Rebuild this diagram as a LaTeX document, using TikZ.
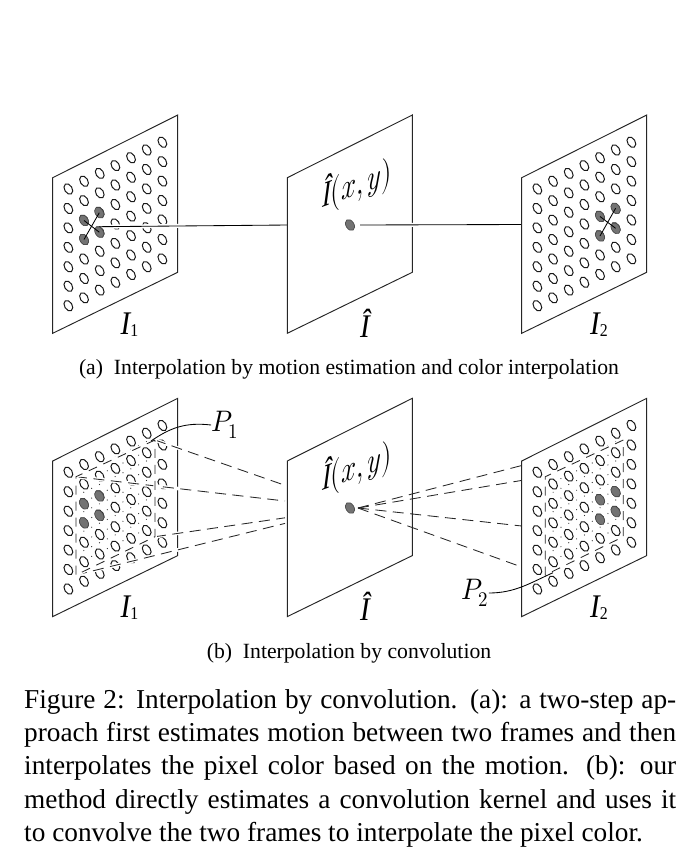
\documentclass[tikz,border=0pt]{standalone}
\usepackage{fontspec}
\setmainfont{Liberation Serif}
\usepackage{unicode-math}
\setmathfont{Latin Modern Math}
\definecolor{dotgray}{gray}{0.45}
\tikzset{
  panel/.style={draw=black!85,fill=white,line width=.95pt},
  pix/.style={draw=black!90,fill=white,line width=1pt},
  pixfill/.style={draw=black!70,fill=dotgray,line width=.7pt},
  link/.style={draw=black,line width=.85pt},
  halo/.style={draw=white,line width=4pt},
  ray/.style={draw=black!85,line width=.85pt,dash pattern=on 11pt off 6.5pt},
  boxdash/.style={draw=black!85,line width=.85pt,dash pattern=on 9pt off 7pt},
  capt/.style={inner sep=0pt,font=\fontsize{21.7}{24}\selectfont},
  body/.style={inner sep=0pt,text width=652pt,align=justify,font=\fontsize{27.3}{33.3}\selectfont},
  lab/.style={inner sep=0pt,xscale=.88,font=\fontsize{33}{36}\selectfont\itshape},
  mlab/.style={inner sep=0pt,font=\fontsize{27}{30}\selectfont},
  tiltlab/.style={mlab,rotate=20,xslant=.38,yscale=1.25,xscale=1.03},
}
\newcommand{\subn}[1]{\raisebox{-2pt}{\fontsize{18}{20}\selectfont\upshape #1}}
\newcommand{\pp}[2]{%
  \path[panel] (#1,#2+62.7) -- (#1+125,#2) -- (#1+125,#2+157.3) -- (#1,#2+218.3) -- cycle;}
\newcommand{\pts}[2]{%
  \foreach \i in {0,...,6}{\foreach \j in {0,...,6}{
    \path[pix] (#1+15.67+15.67*\i,#2+74-7.8*\i+19.45*\j) ellipse[x radius=5.7,y radius=3.8,rotate=-58];}}}
\newcommand{\gdot}[2]{\path[pixfill] (#1,#2) ellipse[x radius=6,y radius=4,rotate=-58];}
\newcommand{\finedots}[2]{%
  \foreach \i in {0,...,9}{\foreach \j in {0,...,9}{
    \fill[black!80] (#1+7.83*\i,#2-3.9*\i+9.72*\j) circle[radius=.6];}}}
\begin{document}
\begin{tikzpicture}[x=1pt,y=-1pt]
\useasboundingbox (0,0) rectangle (694,860);
% --- top row ---
\pp{52.7}{115}
\pts{52.7}{115}
\coordinate (t1) at (99,226.7);
\coordinate (t2) at (288,225);
\path[halo] (106,226.6) -- (t2);
\draw[link] (t1) -- (t2);
\gdot{84}{220.5}\gdot{99.3}{212.7}\gdot{84}{239.5}\gdot{99.3}{232.2}
\draw[link] (84,220.5) -- (99.3,232.2) (99.3,212.7) -- (84,239.5);
\pp{287.3}{115}
\gdot{350}{225}
\pp{521.7}{115}
\pts{521.7}{115}
\gdot{600}{216.5}\gdot{615.6}{208.3}\gdot{600}{236}\gdot{615.6}{228.3}
\draw[link] (600,216.5) -- (615.6,228.3) (615.6,208.3) -- (600,236);
\coordinate (t3) at (360,225);
\coordinate (t4) at (521.7,224.5);
\path[halo] (t3) -- (t4);
\draw[link] (t3) -- (t4);
\path[panel,fill=none] (521.7,177.7) -- (521.7,333.3);
% --- bottom row ---
\begin{scope}[yshift=-283.3pt]
\pp{52.7}{115}
\finedots{76}{193.4}
\pts{52.7}{115}
\gdot{84}{220.5}\gdot{99.3}{212.7}\gdot{84}{239.5}\gdot{99.3}{232.2}
\end{scope}
\coordinate (L1) at (155,440);\coordinate (L2) at (76,476.7);
\coordinate (L3) at (155,536.7);\coordinate (L4) at (76,575);
\foreach \c/\e in {L1/485.3,L2/501,L3/517.8,L4/523.4}{
  \path[halo,line width=3.5pt] (\c) -- (285,\e);
  \draw[ray] (\c) -- (285,\e);}
\path[halo,line width=3.5pt] (L1) -- (L2) -- (L4) -- (L3) -- cycle;
\draw[boxdash] (L1) -- (L2) -- (L4) -- (L3) -- cycle;
\begin{scope}[yshift=-283.3pt]
\pp{287.3}{115}
\gdot{350}{224.7}
\pp{521.7}{115}
\finedots{545.3}{193.4}
\pts{521.7}{115}
\gdot{600}{216.5}\gdot{615.6}{208.3}\gdot{600}{236}\gdot{615.6}{228.3}
\end{scope}
\coordinate (R1) at (623.3,440);\coordinate (R2) at (545.3,476.7);
\coordinate (R3) at (623.3,536.7);\coordinate (R4) at (545.3,575);
\path[halo,line width=3.5pt] (R1) -- (R2) -- (R4) -- (R3) -- cycle;
\draw[boxdash] (R1) -- (R2) -- (R4) -- (R3) -- cycle;
\foreach \e in {465.5,480.4,526,567}{
  \draw[ray] (358,508) -- (521.7,\e);}
% labels
\node[lab] (i1) at (129.5,325) {I\subn{1}};
\node[lab] (i2) at (599,325) {I\subn{2}};
\node[lab] (ih) at (365,323) {Î};
\node[tiltlab] (ixy) at (357,184) {{\itshape Î}$(x,y)$};
\node[lab] (j1) at (129.5,608) {I\subn{1}};
\node[lab] (j2) at (599,608) {I\subn{2}};
\node[lab] (jh) at (365,606) {Î};
\node[tiltlab] (jxy) at (357,467) {{\itshape Î}$(x,y)$};
\node[mlab,yscale=1.1] (p1) at (225,425) {$P_1$};
\node[mlab,yscale=1.1] (p2) at (475,593) {$P_2$};
\coordinate (q1) at (151,441);
\coordinate (q2) at (553,572.7);
\draw[link] (p1.west) .. controls (185,422) and (170,428) .. (q1);
\draw[link] (p2.east) .. controls (515,593) and (530,583) .. (q2);
% captions
\node[capt] (ca) at (349,369) {(a)\hspace{.5em}Interpolation by motion estimation and color interpolation};
\node[capt] (cb) at (349,653) {(b)\hspace{.5em}Interpolation by convolution};
\node[body,anchor=north west] (fig) at (24,689) {Figure 2: Interpolation by convolution. (a): a two-step ap-\linebreak
proach first estimates motion between two frames and then\linebreak
interpolates the pixel color based on the motion. (b): our\linebreak
method directly estimates a convolution kernel and uses it\linebreak
to convolve the two frames to interpolate the pixel color.};
\end{tikzpicture}
\end{document}
